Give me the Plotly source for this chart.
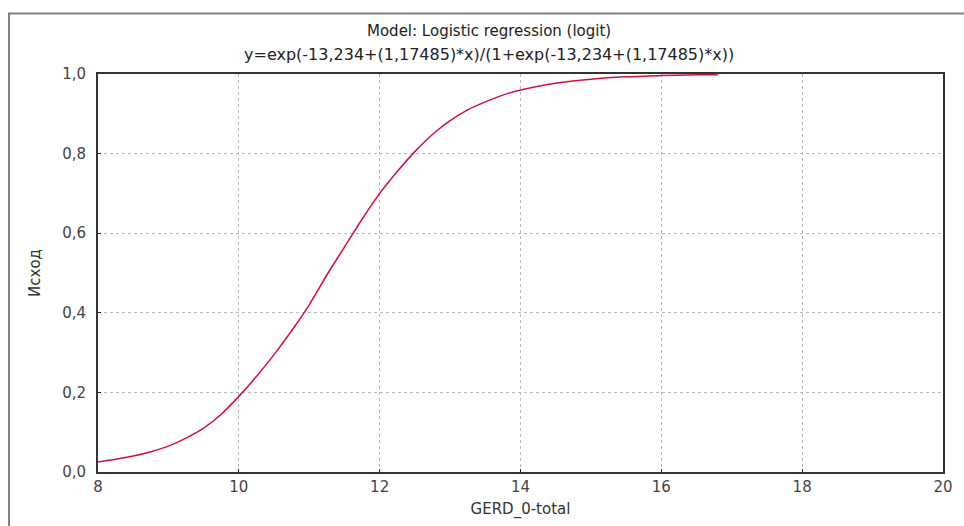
import plotly.graph_objects as go

# Fitted logistic curve, sampled along GERD_0-total
gerd = [8.0, 8.25, 8.5, 8.75, 9.0, 9.25, 9.5, 9.75, 10.0, 10.25, 10.5, 10.75,
        11.0, 11.25, 11.5, 11.75, 12.0, 12.25, 12.5, 12.75, 13.0, 13.25, 13.5,
        13.75, 14.0, 14.5, 15.0, 15.5, 16.0, 16.5, 16.8]
outcome = [0.025, 0.032, 0.040, 0.051, 0.065, 0.085, 0.110, 0.145, 0.190, 0.240,
           0.295, 0.355, 0.420, 0.495, 0.565, 0.635, 0.700, 0.755, 0.805, 0.848,
           0.883, 0.910, 0.930, 0.947, 0.960, 0.977, 0.987, 0.993, 0.996, 0.998,
           0.998]

x_ticks = [8, 10, 12, 14, 16, 18, 20]
x_tick_text = ["8", "10", "12", "14", "16", "18", "20"]
y_ticks = [0.0, 0.2, 0.4, 0.6, 0.8, 1.0]
y_tick_text = ["0,0", "0,2", "0,4", "0,6", "0,8", "1,0"]

title_lines = ["Model: Logistic regression (logit)",
               "y=exp(-13,234+(1,17485)*x)/(1+exp(-13,234+(1,17485)*x))"]

FONT = "DejaVu Sans, Verdana, sans-serif"
FS = 15

fig = go.Figure()
fig.add_trace(go.Scatter(
    x=gerd, y=outcome, mode="lines",
    line=dict(color="#d0103a", width=1.5, shape="spline", smoothing=0.8),
    showlegend=False, hoverinfo="skip",
))

axis_common = dict(
    showline=True, linecolor="#333333", linewidth=2, mirror=True,
    showgrid=True, gridcolor="#b8b8b8", griddash="dot", gridwidth=1,
    zeroline=False, ticks="inside", ticklen=3, tickcolor="#222222",
    tickfont=dict(family=FONT, size=FS, color="#444444"),
)

fig.update_xaxes(
    range=[8, 20], tickvals=x_ticks, ticktext=x_tick_text,
    title=dict(text="GERD_0-total", font=dict(family=FONT, size=FS, color="#333333"),
               standoff=8),
    **axis_common,
)
fig.update_yaxes(
    range=[0, 1], tickvals=y_ticks, ticktext=y_tick_text,
    ticklabelstandoff=7,
    title=dict(text="Исход", font=dict(family=FONT, size=FS, color="#333333"),
               standoff=18),
    **axis_common,
)

# Two-line heading above the plot
for text, ypos, size in zip(title_lines, [1.108, 1.048], [FS, 16]):
    fig.add_annotation(text=text, xref="paper", yref="paper",
                       x=0.463, y=ypos, xanchor="center", yanchor="middle",
                       showarrow=False,
                       font=dict(family=FONT, size=size, color="#222222"))

# Outer frame around the whole graph page
fig.add_shape(type="rect", xref="paper", yref="paper",
              x0=-0.1053, y0=-0.3, x1=1.2, y1=1.152,
              line=dict(color="#808080", width=2), fillcolor="rgba(0,0,0,0)",
              layer="below")

fig.update_layout(
    width=964, height=526,
    margin=dict(l=98, r=11, t=74, b=53),
    paper_bgcolor="white", plot_bgcolor="white",
    font=dict(family=FONT),
)

fig.write_html("out.html")
